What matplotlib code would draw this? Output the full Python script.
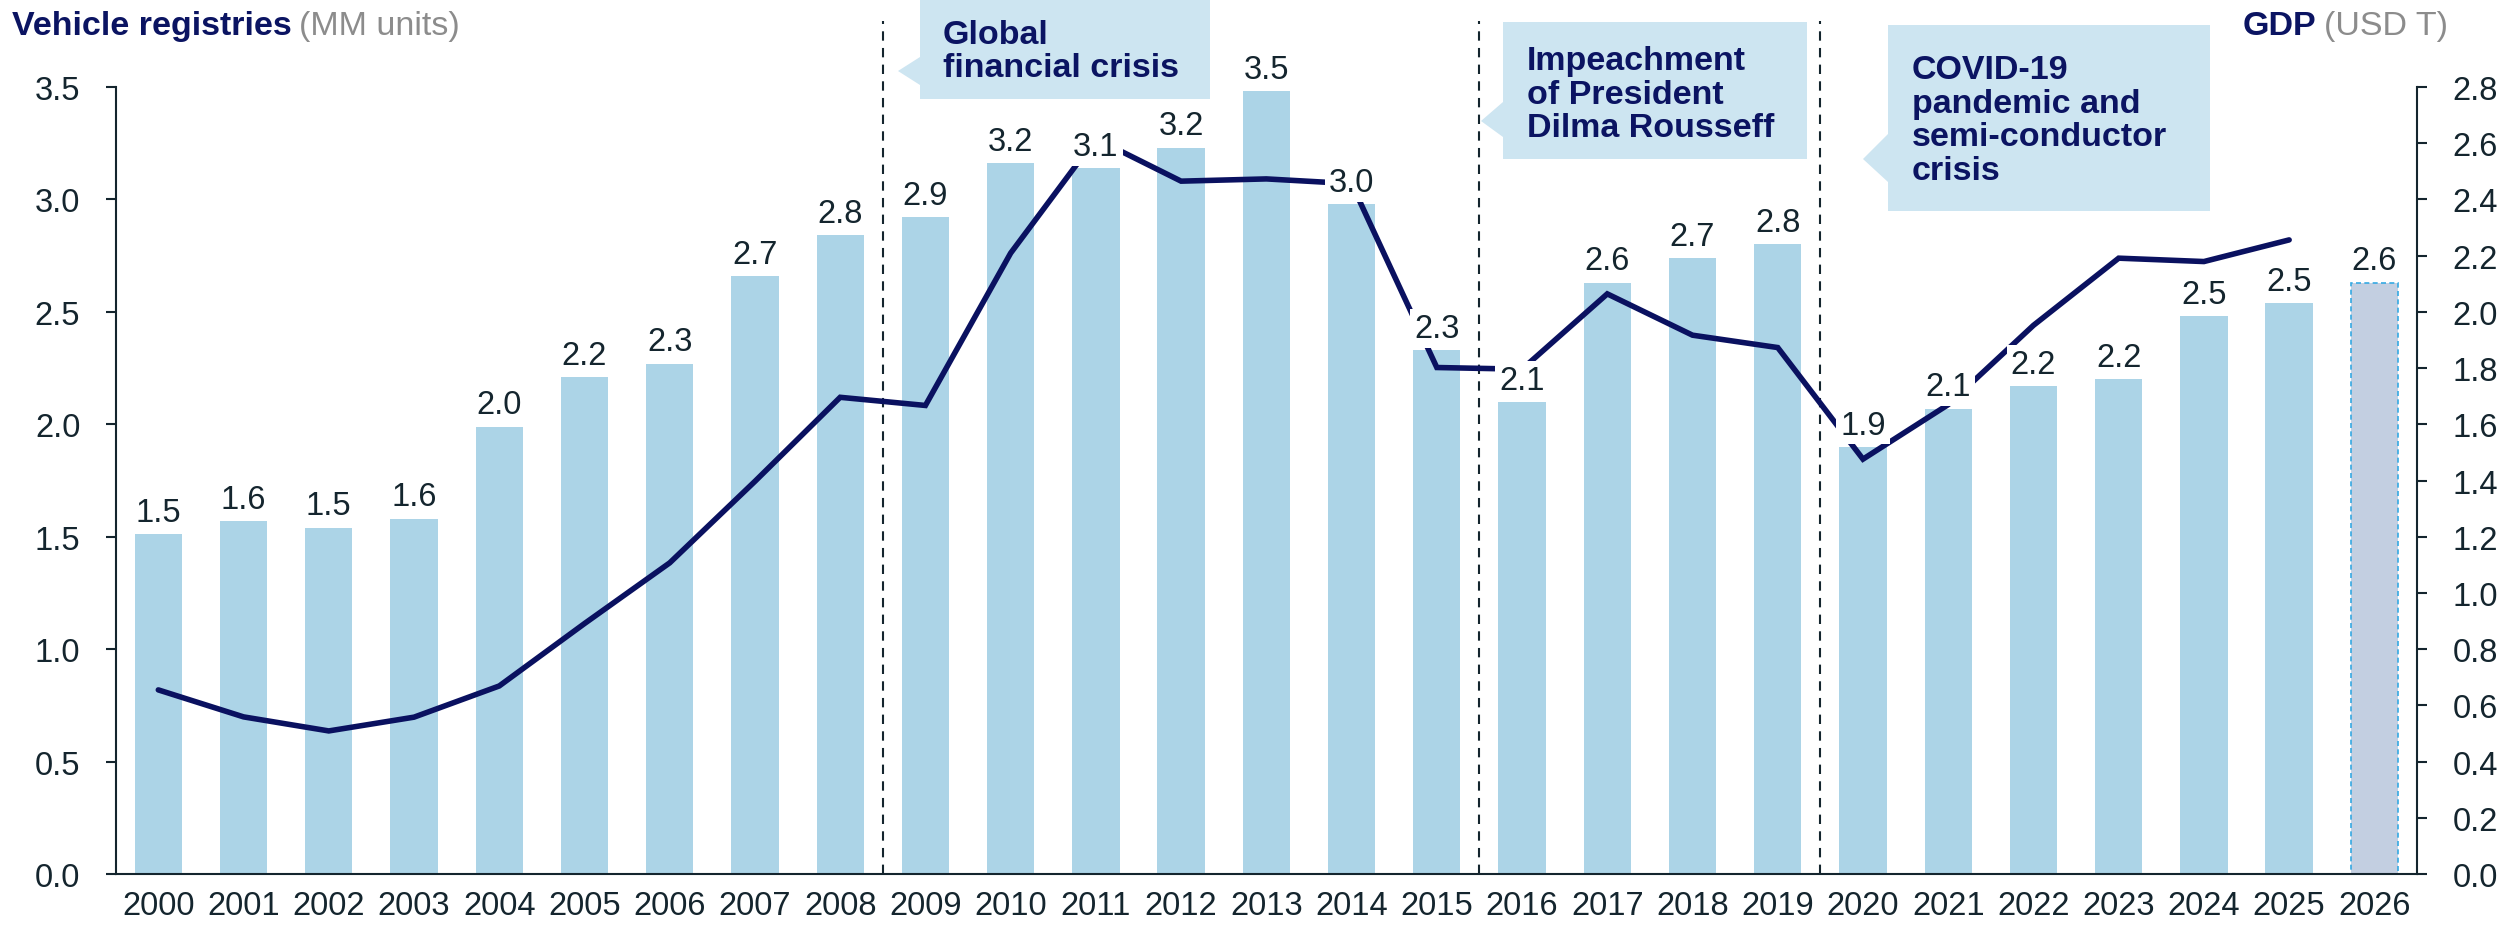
import numpy as np
import matplotlib
matplotlib.use("Agg")
import matplotlib.pyplot as plt
from matplotlib.patches import Polygon

plt.rcParams['font.family'] = ['Liberation Sans', 'DejaVu Sans']

# ---------------- data ----------------
years = [str(y) for y in range(2000, 2027)]
registries = [1.51, 1.57, 1.54, 1.58, 1.99, 2.21, 2.27, 2.66, 2.84, 2.92,
              3.16, 3.14, 3.23, 3.48, 2.98, 2.33, 2.10, 2.63, 2.74, 2.80,
              1.90, 2.07, 2.17, 2.20, 2.48, 2.54, 2.63]
forecast_years = ["2026"]
gdp_years = [str(y) for y in range(2000, 2026)]
gdp = [0.655, 0.559, 0.509, 0.558, 0.669, 0.891, 1.107, 1.397, 1.696, 1.667,
       2.209, 2.616, 2.465, 2.473, 2.456, 1.802, 1.796, 2.064, 1.917, 1.873,
       1.476, 1.670, 1.952, 2.191, 2.179, 2.256]
event_after = ["2008", "2015", "2019"]   # dashed separators after these years
events = ["Global\nfinancial crisis",
          "Impeachment\nof President\nDilma Rousseff",
          "COVID-19\npandemic and\nsemi-conductor\ncrisis"]
left_ticks = [0.0, 0.5, 1.0, 1.5, 2.0, 2.5, 3.0, 3.5]
right_ticks = [0.0, 0.2, 0.4, 0.6, 0.8, 1.0, 1.2, 1.4, 1.6, 1.8, 2.0, 2.2, 2.4, 2.6, 2.8]

# ---------------- style ----------------
BAR = '#acd4e7'
FC_BAR = '#c3cfe1'
FC_EDGE = '#35a9e3'
NAVY = '#0a1160'
TITLE_NAVY = '#0b1462'
GRAY = '#8c8c8c'
DARK = '#14252e'
CALLOUT = '#cde5f1'

W, H = 2509, 929
fig = plt.figure(figsize=(W / 100, H / 100), dpi=100)
x_left, x_right, y_bot, y_top = 115.7, 2417, 875, 88
ax = fig.add_axes([x_left / W, 1 - y_bot / H, (x_right - x_left) / W, (y_bot - y_top) / H])

xpos = np.arange(len(years))
is_fc = [y in forecast_years for y in years]
act_x = [xp for xp, f in zip(xpos, is_fc) if not f]
act_v = [v for v, f in zip(registries, is_fc) if not f]
fc_x = [xp for xp, f in zip(xpos, is_fc) if f]
fc_v = [v for v, f in zip(registries, is_fc) if f]

ax.bar(act_x, act_v, width=0.555, color=BAR, zorder=2)
ax.bar(fc_x, fc_v, width=0.555, color=FC_BAR, edgecolor=FC_EDGE,
       linestyle=(0, (3, 2)), linewidth=1.2, zorder=2)

ax.set_xlim(-0.5, len(years) - 0.5)
ax.set_ylim(0, 3.5)
ax.set_yticks(left_ticks)
ax.set_yticklabels([f"{t:.1f}" for t in left_ticks])
ax.set_xticks(xpos)
ax.set_xticklabels(years)

for s in ['top', 'right']:
    ax.spines[s].set_visible(False)
for s in ['left', 'bottom']:
    ax.spines[s].set_color(DARK)
    ax.spines[s].set_linewidth(1.5)
ax.tick_params(axis='y', length=7.5, width=1.5, pad=18, labelsize=23.5,
               colors=DARK)
ax.tick_params(axis='x', length=0, pad=11.5, labelsize=23.5, colors=DARK)

# dashed separators
ymax_frac = (y_bot - 22) / (y_bot - y_top)
for ev in event_after:
    xv = years.index(ev) + 0.5
    ax.axvline(xv, ymin=0, ymax=ymax_frac, color=DARK, lw=1.5,
               dashes=(4.5, 3.5), clip_on=False, zorder=3)

# GDP line
ax2 = ax.twinx()
ax2.set_ylim(0, 2.8)
ax2.set_yticks(right_ticks)
ax2.set_yticklabels([f"{t:.1f}" for t in right_ticks])
gx = [years.index(y) for y in gdp_years]
ax2.plot(gx, gdp, color=NAVY, lw=4.0, solid_joinstyle='miter',
         solid_capstyle='round', zorder=3)
for s in ['top', 'left', 'bottom']:
    ax2.spines[s].set_visible(False)
ax2.spines['right'].set_color(DARK)
ax2.spines['right'].set_linewidth(1.5)
ax2.tick_params(axis='y', length=7.5, width=1.5, pad=18, labelsize=23.5,
                colors=DARK)

# bar value labels (drawn on top of the line)
for xp, v in zip(xpos, registries):
    ax2.annotate(f"{v:.1f}", xy=(xp, v), xycoords=ax.transData,
                 xytext=(0, 4.5), textcoords='offset points',
                 ha='center', va='bottom', fontsize=23.5, color=DARK,
                 bbox=dict(boxstyle='square,pad=0.12', fc='white', ec='none'),
                 zorder=5)

# ---------------- titles ----------------
def fx(px):
    return px / W

def fy(py):
    return 1 - py / H

fig.canvas.draw()
renderer = fig.canvas.get_renderer()

t1 = fig.text(fx(11.5), fy(35), "Vehicle registries", fontsize=24.5,
              fontweight='bold', color=TITLE_NAVY, va='baseline', ha='left')
bb = t1.get_window_extent(renderer)
fig.text(bb.x1 / W + fx(8), fy(35), "(MM units)", fontsize=24.5,
         color=GRAY, va='baseline', ha='left')

t2 = fig.text(fx(2448), fy(35), "(USD T)", fontsize=24.5, color=GRAY,
              va='baseline', ha='right')
bb2 = t2.get_window_extent(renderer)
fig.text(bb2.x0 / W - fx(8), fy(35), "GDP", fontsize=24.5, fontweight='bold',
         color=TITLE_NAVY, va='baseline', ha='right')

# ---------------- callouts ----------------
def callout(x0, x1, y0, y1, tipx, tipy, b0, b1, text, tx, ty):
    pts = [(x0, y0), (x1, y0), (x1, y1), (x0, y1), (x0, b1), (tipx, tipy), (x0, b0)]
    poly = Polygon([(fx(a), fy(b)) for a, b in pts], closed=True,
                   transform=fig.transFigure, facecolor=CALLOUT,
                   edgecolor='none', zorder=4)
    fig.patches.append(poly)
    fig.text(fx(tx), fy(ty), text, fontsize=24.5, fontweight='bold',
             color=TITLE_NAVY, ha='left', va='center', linespacing=1.12,
             zorder=5)

callout(920, 1210, 0, 100, 898, 72, 58, 86, events[0], 943, 52)
callout(1503, 1807, 23, 160, 1481, 122, 103, 138, events[1], 1527, 95)
callout(1888, 2210, 26, 212, 1863, 160, 135, 183, events[2], 1912, 121)

fig.savefig("out.png", dpi=100)
